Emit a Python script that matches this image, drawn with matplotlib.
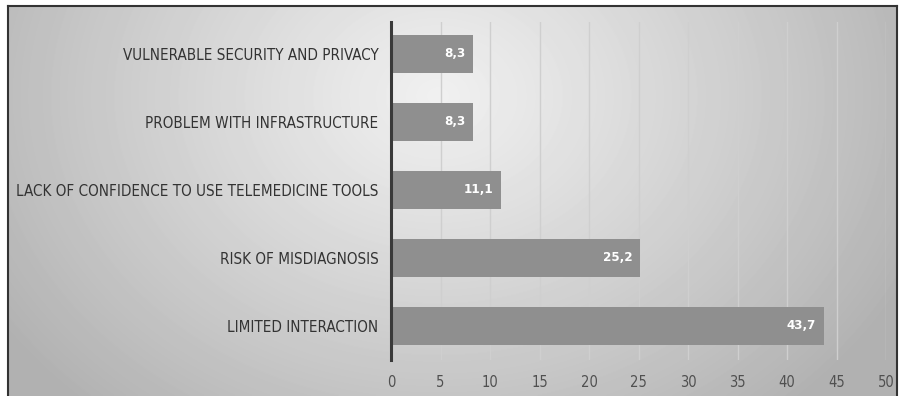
import numpy as np
import matplotlib
matplotlib.use("Agg")
import matplotlib.pyplot as plt

categories = ["LIMITED INTERACTION", "RISK OF MISDIAGNOSIS",
              "LACK OF CONFIDENCE TO USE TELEMEDICINE TOOLS",
              "PROBLEM WITH INFRASTRUCTURE", "VULNERABLE SECURITY AND PRIVACY"]
values = [43.7, 25.2, 11.1, 8.3, 8.3]
value_labels = ["43,7", "25,2", "11,1", "8,3", "8,3"]
xticks = [0, 5, 10, 15, 20, 25, 30, 35, 40, 45, 50]

plt.rcParams['font.family'] = ['DejaVu Sans']

W, H = 899, 396
fig = plt.figure(figsize=(W/100, H/100), dpi=100)
fig.patch.set_facecolor("white")

# background panel with radial gradient
bx0, by0, bx1, by1 = 8, 6, 897, 396
bg = fig.add_axes([bx0/W, 1-by1/H, (bx1-bx0)/W, (by1-by0)/H])
yy, xx = np.mgrid[0:by1-by0, 0:bx1-bx0]
cx, cy = 430, 90
d = np.sqrt(((xx-cx)/1.0)**2 + ((yy-cy)/0.8)**2)
g = 240 - 62*np.clip(d/520, 0, 1)**1.1
bg.imshow(g, cmap="gray", vmin=0, vmax=255, aspect="auto", interpolation="bilinear")
bg.set_xticks([]); bg.set_yticks([])
for s in bg.spines.values():
    s.set_color("#333333"); s.set_linewidth(1.5)
bg.spines["bottom"].set_visible(False)

# main axes: x 391..886, y 22..360
ax = fig.add_axes([391/W, 1-360/H, (886-391)/W, (360-22)/H])
ax.patch.set_alpha(0)
y = np.arange(len(categories))
ax.barh(y, values, height=0.57, color="#8f8f8f", zorder=3)
ax.set_xlim(0, 50)
ax.set_ylim(-0.5, 4.47)
ax.set_xticks(xticks)
ax.set_xticklabels([str(t) for t in xticks], fontsize=10.5, color="#505050",
                   fontstretch="condensed")
ax.set_yticks(y)
ax.set_yticklabels(categories, fontsize=10.9, color="#333333", fontstretch="condensed")
ax.tick_params(axis="both", length=0)
ax.tick_params(axis="x", pad=11)
ax.tick_params(axis="y", pad=9)
ax.grid(axis="x", color="#cfcfcf", linewidth=1.0, zorder=1)
for s in ["top", "right", "bottom"]:
    ax.spines[s].set_visible(False)
ax.spines["left"].set_color("#3a3a3a")
ax.spines["left"].set_linewidth(2.2)
ax.spines["left"].set_zorder(4)
for yi, v, lab in zip(y, values, value_labels):
    ax.text(v - 0.8, yi, lab, ha="right", va="center", color="white",
            fontsize=9.5, fontweight="bold", fontstretch="condensed", zorder=5)

fig.savefig("out.png", dpi=100)
